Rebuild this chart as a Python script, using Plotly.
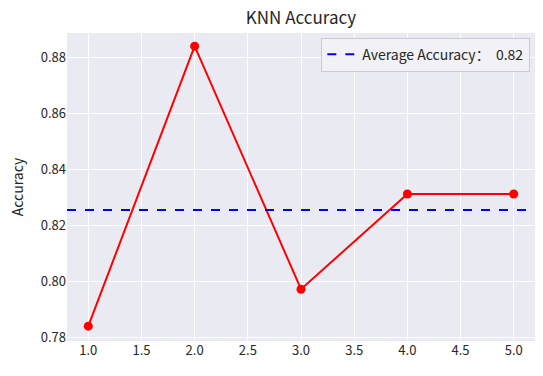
import plotly.graph_objects as go

k_values = [1, 2, 3, 4, 5]
accuracy = [0.7839, 0.8839, 0.7971, 0.8311, 0.8311]
avg_label = "Average Accuracy：  0.82"
x_ticks = [1.0, 1.5, 2.0, 2.5, 3.0, 3.5, 4.0, 4.5, 5.0]
y_ticks = [0.78, 0.80, 0.82, 0.84, 0.86, 0.88]

avg = sum(accuracy) / len(accuracy)
FONT = "Noto Sans CJK SC, Microsoft YaHei, sans-serif"

fig = go.Figure()
fig.add_trace(go.Scatter(
    x=k_values, y=accuracy, mode="lines+markers",
    line=dict(color="red", width=2),
    marker=dict(color="red", size=9),
    showlegend=False,
))
fig.add_hline(y=avg, line=dict(color="blue", width=2, dash="dash"),
              showlegend=True, name=avg_label)

fig.update_layout(
    width=543, height=376,
    margin=dict(l=67, r=8, t=33, b=35, autoexpand=False),
    paper_bgcolor="white", plot_bgcolor="#EAEAF2",
    font=dict(family=FONT, size=12, color="#262626"),
    title=dict(text="KNN Accuracy", x=0.5, xanchor="center",
               xref="paper", y=0.952, yanchor="middle",
               font=dict(size=17, color="#262626")),
    legend=dict(x=0.99, y=0.985, xanchor="right", yanchor="top",
                bgcolor="rgba(242,242,246,0.9)", bordercolor="#CCCCCC",
                borderwidth=1, font=dict(size=14, color="#262626"),
                itemwidth=30),
)
fig.update_xaxes(range=[0.8, 5.2], tickvals=x_ticks,
                 ticktext=[f"{v:.1f}" for v in x_ticks],
                 showgrid=True, gridcolor="white", gridwidth=1,
                 zeroline=False, showline=False, ticks="", ticklen=0,
                 automargin=False, tickfont=dict(size=13))
fig.update_yaxes(range=[0.7786, 0.8886], tickvals=y_ticks,
                 ticktext=[f"{v:.2f}" for v in y_ticks],
                 showgrid=True, gridcolor="white", gridwidth=1,
                 zeroline=False, showline=False, ticks="",
                 automargin=False,
                 title=dict(text="Accuracy", font=dict(size=14), standoff=13),
                 tickfont=dict(size=13))

fig.write_html("out.html",
               config={"displayModeBar": False},
               post_script="document.body.style.margin='0';document.body.style.overflow='hidden';")
